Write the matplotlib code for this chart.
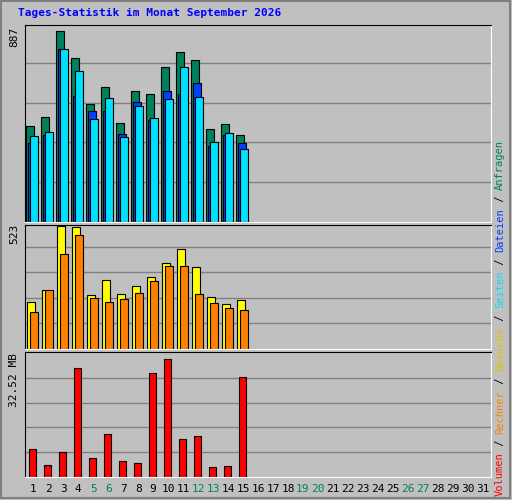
import matplotlib.pyplot as plt
import numpy as np

days = np.arange(1, 32)
hits = [435, 478, 867, 746, 537, 613, 450, 594, 582, 704, 772, 735, 421, 444, 394]
files = [359, 396, 785, 573, 505, 505, 400, 546, 464, 594, 582, 632, 344, 396, 359]
pages = [390, 408, 785, 685, 467, 563, 385, 526, 472, 558, 704, 567, 362, 403, 332]
visits = [200, 253, 523, 519, 231, 292, 235, 270, 305, 366, 427, 349, 222, 192, 209]
sites = [157, 250, 405, 484, 218, 200, 214, 240, 288, 353, 353, 235, 196, 174, 166]
volume_mb = [7.5, 3.3, 6.7, 29.3, 5.1, 11.5, 4.3, 3.8, 28.0, 31.7, 10.2, 11.0, 2.7, 3.0, 26.9]
weekend = [5, 6, 12, 13, 19, 20, 26, 27]

W, H = 512, 500
fig = plt.figure(figsize=(W / 100, H / 100), dpi=100, facecolor='#c0c0c0')
font = 'DejaVu Sans Mono'

# outer frame
fr = fig.add_axes([0, 0, 1, 1])
fr.set_xlim(0, W); fr.set_ylim(H, 0); fr.axis('off')
fr.add_patch(plt.Rectangle((1, 1), W - 3, H - 3, fill=False, ec='#808080', lw=1.5))
fig.text(18 / W, 1 - 13 / H, 'Tages-Statistik im Monat September 2026', color='#0000ff',
         fontsize=8, family=font, weight='bold', va='center')


def panel(top, bottom):
    ax = fig.add_axes([25 / W, 1 - bottom / H, 466 / W, (bottom - top) / H])
    ax.set_facecolor('#c0c0c0')
    ax.set_xlim(0.45, 31.55)
    ax.set_xticks([]); ax.set_yticks([])
    for s in ax.spines.values():
        s.set_color('black')
    ax.spines['right'].set_color('white'); ax.spines['bottom'].set_color('white')
    return ax


ec = dict(edgecolor='black', linewidth=0.8, align='edge')
n = len(hits)
x = days[:n]

ax1 = panel(25, 222)
ymax = 887
for g in range(1, 5):
    ax1.axhline(ymax * g / 4.9, color='#808080', lw=1, zorder=0)
ax1.bar(x - 0.45, hits, 0.5, color='#00805c', **ec)
ax1.bar(x - 0.33, files, 0.5, color='#0040ff', **ec)
ax1.bar(x - 0.2, pages, 0.55, color='#00e0ff', **ec)
ax1.set_ylim(0, ymax * 1.01)
fig.text(14 / W, 1 - 37 / H, '887', rotation=90, family=font, fontsize=8, va='center', ha='center')

ax2 = panel(225, 349)
vmax = 523
for g in range(1, 5):
    ax2.axhline(vmax * g / 4.8, color='#808080', lw=1, zorder=0)
ax2.bar(x - 0.4, visits, 0.5, color='#ffff00', **ec)
ax2.bar(x - 0.2, sites, 0.5, color='#ff8000', **ec)
ax2.set_ylim(0, vmax * 1.01)
fig.text(14 / W, 1 - 234 / H, '523', rotation=90, family=font, fontsize=8, va='center', ha='center')

ax3 = panel(352, 477)
kmax = 32.52
for g in range(1, 5):
    ax3.axhline(kmax * g / 4.9, color='#808080', lw=1, zorder=0)
ax3.bar(x - 0.3, volume_mb, 0.5, color='#ff0000', **ec)
ax3.set_ylim(0, kmax * 1.03)
fig.text(14 / W, 1 - 380 / H, '32.52 MB', rotation=90, family=font, fontsize=8, va='center', ha='center')

# day labels
for d in days:
    fig.text((25 + (d - 0.45) / 31.1 * 466) / W, 1 - 489 / H, str(d), family=font, fontsize=8,
             ha='center', va='center', color='#00805c' if d in weekend else 'black')

# right side labels, stacked bottom to top
fig.canvas.draw()
r = fig.canvas.get_renderer()
y = 4
for txt, col in [('Volumen', '#ff0000'), (' / ', 'black'), ('Rechner', '#ff8000'), (' / ', 'black'),
                 ('Besuche', '#e0c000'), (' / ', 'black'), ('Seiten', '#00e0ff'), (' / ', 'black'),
                 ('Dateien', '#0040ff'), (' / ', 'black'), ('Anfragen', '#00805c')]:
    t = fig.text(500 / W, y / H, txt, rotation=90, family=font, fontsize=7.5, color=col,
                 ha='center', va='bottom')
    y += t.get_window_extent(r).height

fig.savefig('out.png', dpi=100, facecolor=fig.get_facecolor())
